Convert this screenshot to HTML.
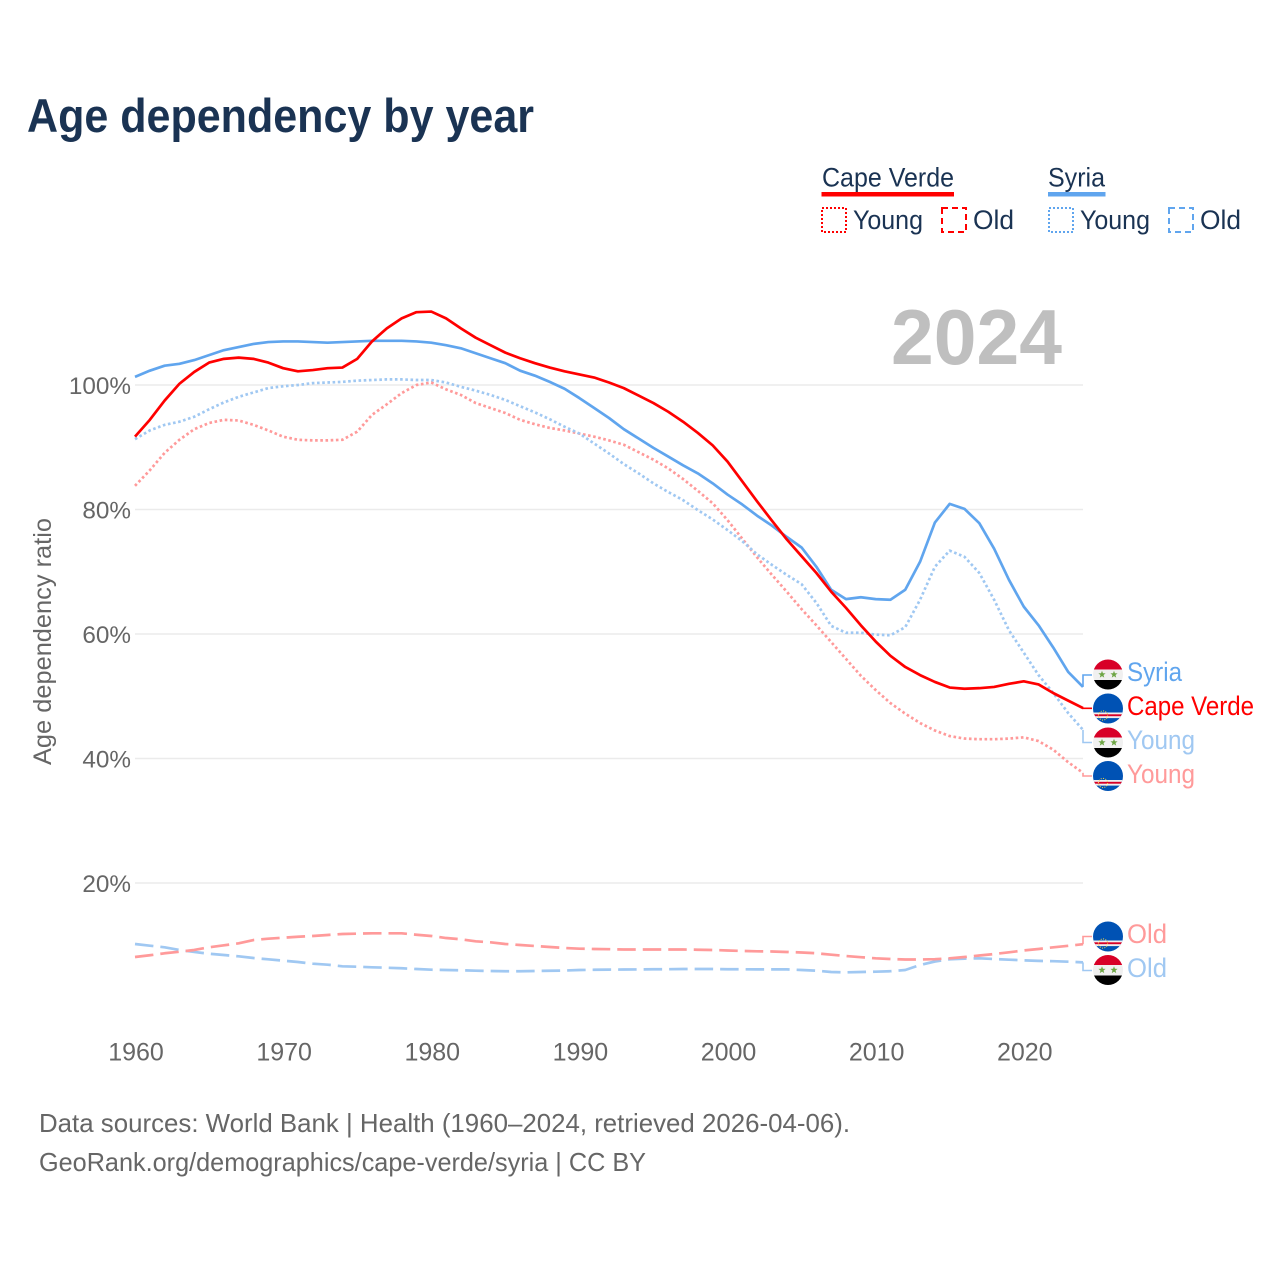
<!DOCTYPE html>
<html lang="en">
<head>
<meta charset="utf-8">
<title>Age dependency by year</title>
<style>
html,body{margin:0;padding:0;background:#fff;}
svg{display:block;font-family:"Liberation Sans",sans-serif;}
</style>
</head>
<body>
<svg id="chart" xmlns="http://www.w3.org/2000/svg" width="1280" height="1280" viewBox="0 0 1280 1280">
<defs>
<clipPath id="flag-clip"><circle cx="0" cy="0" r="15"></circle></clipPath>
</defs>
<rect x="0" y="0" width="1280" height="1280" fill="#fff"></rect>
<text x="27" y="132" font-size="47" font-weight="700" fill="#1a3353" textLength="507" lengthAdjust="spacingAndGlyphs">Age dependency by year</text>

<g>
<text x="822" y="186.5" font-size="27" fill="#1a3353" textLength="132" lengthAdjust="spacingAndGlyphs">Cape Verde</text>
<rect x="821.5" y="192" width="132.5" height="4.5" fill="#ff0000"></rect>
<text x="1048" y="186.5" font-size="27" fill="#1a3353" textLength="57" lengthAdjust="spacingAndGlyphs">Syria</text>
<rect x="1048" y="192" width="57.5" height="4.5" fill="#60a5ee"></rect>

<rect x="822" y="208" width="24" height="24" fill="none" stroke="#ff0000" stroke-width="2" stroke-dasharray="2 2"></rect>
<text x="853" y="229" font-size="27" fill="#1a3353" textLength="70" lengthAdjust="spacingAndGlyphs">Young</text>
<rect x="942" y="208" width="24" height="24" fill="none" stroke="#ff0000" stroke-width="2" stroke-dasharray="6 4"></rect>
<text x="973" y="229" font-size="27" fill="#1a3353" textLength="41" lengthAdjust="spacingAndGlyphs">Old</text>

<rect x="1049" y="208" width="24" height="24" fill="none" stroke="#60a5ee" stroke-width="2" stroke-dasharray="2 2"></rect>
<text x="1080" y="229" font-size="27" fill="#1a3353" textLength="70" lengthAdjust="spacingAndGlyphs">Young</text>
<rect x="1169" y="208" width="24" height="24" fill="none" stroke="#60a5ee" stroke-width="2" stroke-dasharray="6 4"></rect>
<text x="1200" y="229" font-size="27" fill="#1a3353" textLength="41" lengthAdjust="spacingAndGlyphs">Old</text>
</g>

<g id="grid"></g>
<text x="891" y="364" font-size="78" font-weight="700" fill="#bfbfbf" textLength="171" lengthAdjust="spacingAndGlyphs">2024</text>
<g id="yticks"></g>
<g id="xticks"></g>
<text transform="translate(51,765) rotate(-90)" x="0" y="0" font-size="25" fill="#666" textLength="247" lengthAdjust="spacingAndGlyphs">Age dependency ratio</text>
<g id="series"></g>
<g id="labels"></g>

<text x="39" y="1132" font-size="26" fill="#666" textLength="811" lengthAdjust="spacingAndGlyphs">Data sources: World Bank | Health (1960–2024, retrieved 2026-04-06).</text>
<text x="39" y="1171" font-size="26" fill="#666" textLength="607" lengthAdjust="spacingAndGlyphs">GeoRank.org/demographics/cape-verde/syria | CC BY</text>
</svg>

<script>
var startYear = 1960;
var endYear = 2024;
var yTickValues = [20, 40, 60, 80, 100];
var xTickYears = [1960, 1970, 1980, 1990, 2000, 2010, 2020];

var syriaTotal = [101.3,102.3,103.1,103.4,104.0,104.8,105.6,106.1,106.6,106.9,107.0,107.0,106.9,106.8,106.9,107.0,107.1,107.1,107.1,107.0,106.8,106.4,105.9,105.1,104.3,103.5,102.3,101.5,100.5,99.4,97.9,96.3,94.7,92.9,91.4,89.9,88.5,87.1,85.8,84.2,82.4,80.8,79.0,77.4,75.6,73.9,70.8,67.1,65.6,65.9,65.6,65.5,67.1,71.6,77.9,80.9,80.1,77.8,73.7,68.7,64.4,61.4,57.8,53.9,51.5];
var syriaYoung = [91.3,92.7,93.6,94.1,94.9,96.1,97.2,98.1,98.8,99.5,99.8,100.0,100.3,100.4,100.5,100.7,100.8,100.9,100.9,100.8,100.8,100.4,99.7,99.1,98.4,97.6,96.6,95.6,94.5,93.3,92.2,90.6,89.0,87.3,85.8,84.2,82.8,81.5,79.9,78.4,76.7,74.9,72.8,71.1,69.5,68.0,65.0,61.3,60.2,60.2,59.9,59.8,61.1,65.5,70.8,73.4,72.4,69.8,65.5,60.6,57.0,53.4,50.5,47.3,44.6];
var syriaOld = [10.2,9.93,9.67,9.24,8.92,8.64,8.43,8.22,7.95,7.74,7.52,7.31,7.04,6.88,6.62,6.55,6.46,6.39,6.3,6.18,6.07,6.02,5.98,5.91,5.86,5.82,5.82,5.86,5.9,5.94,6.02,6.06,6.09,6.1,6.12,6.14,6.15,6.18,6.18,6.18,6.15,6.14,6.12,6.12,6.12,6.02,5.91,5.70,5.65,5.7,5.75,5.83,6.02,6.83,7.39,7.74,7.85,7.9,7.79,7.68,7.58,7.49,7.44,7.36,7.25];
var capeVerdeTotal = [91.7,94.4,97.5,100.2,102.1,103.6,104.2,104.4,104.2,103.6,102.7,102.2,102.4,102.7,102.8,104.2,107.0,109.1,110.7,111.7,111.8,110.7,109.1,107.6,106.4,105.2,104.3,103.5,102.8,102.2,101.7,101.2,100.4,99.5,98.3,97.1,95.7,94.1,92.3,90.3,87.7,84.5,81.3,78.2,75.2,72.5,69.8,66.8,64.2,61.4,58.8,56.5,54.7,53.4,52.3,51.4,51.2,51.3,51.5,52.0,52.4,51.9,50.5,49.3,48.1];
var capeVerdeYoung = [83.8,86.3,89.1,91.2,92.9,93.9,94.4,94.3,93.6,92.7,91.7,91.2,91.1,91.1,91.2,92.5,95.2,96.9,98.7,100.0,100.4,99.3,98.4,97.1,96.3,95.5,94.4,93.7,93.1,92.7,92.2,91.7,91.1,90.4,89.2,88.0,86.6,84.9,83.0,81.0,78.3,75.3,72.3,69.5,66.8,64.0,61.4,58.7,56.0,53.3,51.0,48.9,47.2,45.7,44.5,43.6,43.2,43.1,43.1,43.2,43.4,42.8,41.4,39.4,37.7];
var capeVerdeOld = [8.11,8.39,8.71,8.96,9.24,9.67,9.99,10.31,10.84,11.05,11.21,11.37,11.49,11.65,11.81,11.86,11.92,11.92,11.92,11.69,11.49,11.16,10.96,10.63,10.47,10.2,10.04,9.88,9.72,9.56,9.45,9.4,9.37,9.32,9.32,9.32,9.32,9.32,9.28,9.24,9.16,9.08,9.03,9.0,8.92,8.84,8.71,8.48,8.27,8.08,7.9,7.79,7.71,7.71,7.76,7.9,8.11,8.35,8.59,8.87,9.16,9.4,9.67,9.91,10.17];

var NS = 'http://www.w3.org/2000/svg';

function xScale(year) {
  return 135 + (year - startYear) * (1083 - 135) / (endYear - startYear);
}
function yScale(value) {
  return 1007.5 - value * 6.225;
}
function make(tag, attrs, parent) {
  var el = document.createElementNS(NS, tag);
  for (var k in attrs) { el.setAttribute(k, attrs[k]); }
  parent.appendChild(el);
  return el;
}

var gridGroup = document.getElementById('grid');
var yTickGroup = document.getElementById('yticks');
var xTickGroup = document.getElementById('xticks');
var seriesGroup = document.getElementById('series');
var labelGroup = document.getElementById('labels');

yTickValues.forEach(function (v) {
  var line = make('line', {x1: 135, x2: 1083, y1: yScale(v), y2: yScale(v), stroke: '#ebebeb', 'stroke-width': 1.5}, gridGroup);
  
  
  var t = make('text', {x: 131, y: yScale(v) + 9, 'text-anchor': 'end', 'font-size': 24.3, fill: '#666'}, yTickGroup);
  
  
  t.textContent = v + '%';
});

xTickYears.forEach(function (y) {
  var t = make('text', {x: xScale(y) + 1, y: 1060.5, 'text-anchor': 'middle', 'font-size': 25, fill: '#666'}, xTickGroup);
  
  
  t.textContent = y;
});

function drawLine(values, color, dash, width, name) {
  var pts = values.map(function (v, i) {
    return xScale(startYear + i).toFixed(2) + ',' + yScale(v).toFixed(2);
  }).join(' ');
  var attrs = {points: pts, fill: 'none', stroke: color, 'stroke-width': width, 'stroke-linejoin': 'round'};
  if (dash) { attrs['stroke-dasharray'] = dash; }
  var el = make('polyline', attrs, seriesGroup);
  
  
}

function drawConnector(values, labelY, color, dash, name) {
  var x = xScale(endYear);
  var y = yScale(values[values.length - 1]);
  var attrs = {d: 'M' + x + ' ' + y + 'L' + x + ' ' + labelY + 'L1092 ' + labelY, fill: 'none', stroke: color, 'stroke-width': 1.6};
  if (dash) { attrs['stroke-dasharray'] = dash; }
  var el = make('path', attrs, seriesGroup);
  
  
}

function drawSyriaFlag(cy, name) {
  var g = make('g', {transform: 'translate(1108,' + cy + ')', 'clip-path': 'url(#flag-clip)'}, labelGroup);
  
  
  make('rect', {x: -15, y: -16, width: 30, height: 11, fill: '#d80027'}, g);
  make('rect', {x: -15, y: -5, width: 30, height: 10.5, fill: '#f0f0f0'}, g);
  make('rect', {x: -15, y: 5.5, width: 30, height: 11, fill: '#000'}, g);
  [-6, 6].forEach(function (dx) {
    var s = [];
    for (var i = 0; i < 10; i++) {
      var r = i % 2 ? 1.6 : 3.8;
      var a = -Math.PI / 2 + i * Math.PI / 5;
      s.push((dx + r * Math.cos(a)).toFixed(2) + ',' + (r * Math.sin(a)).toFixed(2));
    }
    make('polygon', {points: s.join(' '), fill: '#6da544'}, g);
  });
}

function drawCapeVerdeFlag(cy, name) {
  var g = make('g', {transform: 'translate(1108,' + cy + ')', 'clip-path': 'url(#flag-clip)'}, labelGroup);
  
  
  make('rect', {x: -15, y: -16, width: 30, height: 32, fill: '#0052b4'}, g);
  make('rect', {x: -15, y: 4, width: 30, height: 5.6, fill: '#f0f0f0'}, g);
  make('rect', {x: -15, y: 5.8, width: 30, height: 1.9, fill: '#d80027'}, g);
  make('circle', {cx: -5, cy: 7, r: 4.6, fill: 'none', stroke: '#ffda44', 'stroke-width': 1, 'stroke-dasharray': '1 1.4'}, g);
}

function drawLabel(text, x, y, color, len, name) {
  var t = make('text', {x: x, y: y, 'font-size': 27, fill: color, textLength: len, lengthAdjust: 'spacingAndGlyphs'}, labelGroup);
  
  
  t.textContent = text;
}

var RED = '#ff0000', BLUE = '#60a5ee', LRED = '#ff9a9a', LBLUE = '#a0c8f2';
var DOT = '2.6 2.6', DASH = '18.5 7';

drawLine(syriaOld, LBLUE, DASH, 2.7, 'line-syria-old');
drawLine(capeVerdeOld, LRED, DASH, 2.7, 'line-cape-verde-old');
drawLine(capeVerdeYoung, LRED, DOT, 2.7, 'line-cape-verde-young');
drawLine(syriaYoung, LBLUE, DOT, 2.7, 'line-syria-young');
drawLine(syriaTotal, BLUE, null, 2.7, 'line-syria-total');
drawLine(capeVerdeTotal, RED, null, 2.7, 'line-cape-verde-total');

drawConnector(syriaTotal, 675, BLUE, null, 'connector-syria-total');
drawConnector(capeVerdeTotal, 708.3, RED, null, 'connector-cape-verde-total');
drawConnector(syriaYoung, 742.5, LBLUE, null, 'connector-syria-young');
drawConnector(capeVerdeYoung, 776, LRED, null, 'connector-cape-verde-young');
drawConnector(capeVerdeOld, 936.5, LRED, null, 'connector-cape-verde-old');
drawConnector(syriaOld, 970.5, LBLUE, null, 'connector-syria-old');

drawSyriaFlag(674.5, 'flag-syria-total');
drawCapeVerdeFlag(708.5, 'flag-cape-verde-total');
drawSyriaFlag(742.5, 'flag-syria-young');
drawCapeVerdeFlag(776, 'flag-cape-verde-young');
drawCapeVerdeFlag(936.5, 'flag-cape-verde-old');
drawSyriaFlag(970, 'flag-syria-old');

drawLabel('Syria', 1127, 681, BLUE, 55, 'label-syria-total');
drawLabel('Cape Verde', 1127, 715, RED, 127, 'label-cape-verde-total');
drawLabel('Young', 1127, 749, LBLUE, 68, 'label-syria-young');
drawLabel('Young', 1127, 783, LRED, 68, 'label-cape-verde-young');
drawLabel('Old', 1127, 943, LRED, 40, 'label-cape-verde-old');
drawLabel('Old', 1127, 977, LBLUE, 40, 'label-syria-old');
</script>
</body>
</html>
